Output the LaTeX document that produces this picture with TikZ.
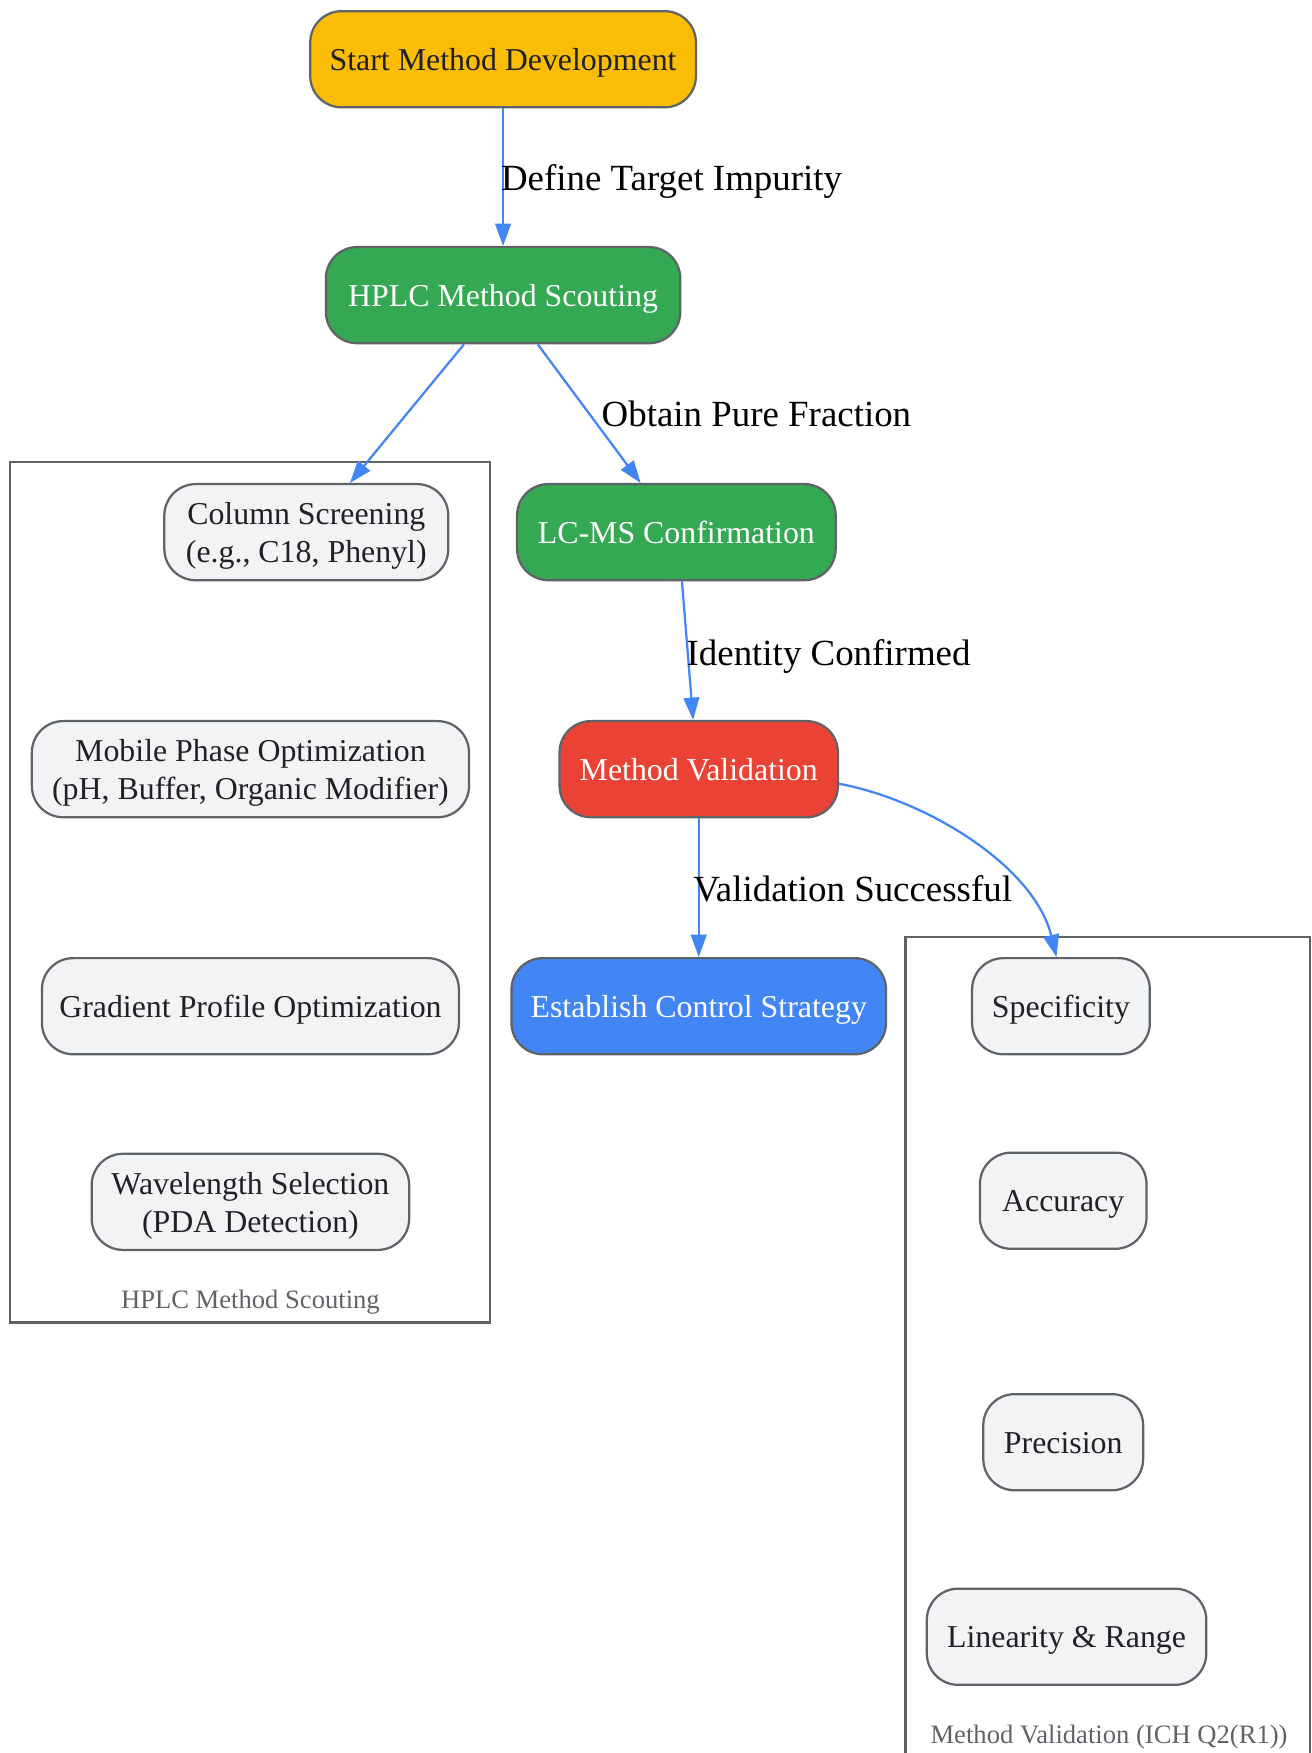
\documentclass[tikz,border=0pt]{standalone}
\usepackage{fontspec}
\setmainfont{Liberation Serif}
\usetikzlibrary{arrows.meta,positioning,calc}
\definecolor{cyellow}{HTML}{FBBC04}
\definecolor{cgreen}{HTML}{34A853}
\definecolor{cred}{HTML}{EA4335}
\definecolor{cblue}{HTML}{4285F4}
\definecolor{cgrayfill}{HTML}{F1F3F4}
\definecolor{cborder}{HTML}{5F6368}
\definecolor{ctext}{HTML}{202124}
\newcommand{\mytopstrut}{\rule{0pt}{28pt}}
\newcommand{\mybotstrut}{\rule[-8pt]{0pt}{8pt}}
\begin{document}
\begin{tikzpicture}[x=1pt,y=-1pt,
  box/.style={draw=cborder,line width=2pt,rounded corners=28pt,minimum height=86pt,inner sep=0pt,align=center,font=\fontsize{28.5}{34}\selectfont},
  light/.style={box,fill=cgrayfill,text=ctext},
  edge/.style={draw=cblue,line width=2pt,-{Triangle[length=20pt,width=14pt]}},
  elabel/.style={anchor=base west,font=\fontsize{33}{38}\selectfont,text=black,inner sep=0pt},
  cluster/.style={draw=cborder,line width=2pt,fill=none},
  ctitle/.style={anchor=base,font=\fontsize{23.8}{28}\selectfont,text=cborder,inner sep=0pt}]
\useasboundingbox (0,0) rectangle (1173,1568);
% clusters
\draw[cluster] (9,413) rectangle (438,1183);
\node[ctitle] (t1) at (224,1170.5) {HPLC Method Scouting};
\draw[cluster] (810,838) rectangle (1172,1590);
\node[ctitle] (t2) at (992,1559.5) {Method Validation (ICH Q2(R1))};
% main nodes
\node[box,fill=cyellow,text=ctext,minimum width=345pt] (start) at (450,53) {\mytopstrut Start Method Development\mybotstrut};
\node[box,fill=cgreen,text=white,minimum width=317pt] (hplc) at (450,264) {\mytopstrut HPLC Method Scouting\mybotstrut};
\node[box,fill=cgreen,text=white,minimum width=285pt] (lcms) at (605,476) {\mytopstrut LC-MS Confirmation\mybotstrut};
\node[box,fill=cred,text=white,minimum width=249pt] (mv) at (625,688) {\mytopstrut Method Validation\mybotstrut};
\node[box,fill=cblue,text=white,minimum width=335pt] (ecs) at (625,900) {\mytopstrut Establish Control Strategy\mybotstrut};
% scouting nodes
\node[light,minimum width=254pt] (col) at (274,476) {\mytopstrut Column Screening\\(e.g., C18, Phenyl)\mybotstrut};
\node[light,minimum width=391pt] (mob) at (224,688) {\mytopstrut Mobile Phase Optimization\\(pH, Buffer, Organic Modifier)\mybotstrut};
\node[light,minimum width=373pt] (grad) at (224,900) {\mytopstrut Gradient Profile Optimization\mybotstrut};
\node[light,minimum width=284pt] (wave) at (224,1075) {\mytopstrut Wavelength Selection\\(PDA Detection)\mybotstrut};
% validation nodes
\node[light,minimum width=159pt] (spec) at (949,900) {\mytopstrut Specificity\mybotstrut};
\node[light,minimum width=149pt] (acc) at (951,1074) {\mytopstrut Accuracy\mybotstrut};
\node[light,minimum width=143pt] (prec) at (951,1290) {\mytopstrut Precision\mybotstrut};
\node[light,minimum width=250pt] (lin) at (954,1464) {\mytopstrut Linearity \& Range\mybotstrut};
% edges
\draw[edge] (start.south) -- (hplc.north);
\node[elabel] (l1) at (448,170.6) {Define Target Impurity};
\draw[edge] ([xshift=-35pt]hplc.south) -- ([xshift=39pt]col.north);
\draw[edge] ([xshift=31pt]hplc.south) -- ([xshift=-32pt]lcms.north);
\node[elabel] (l2) at (538,381.8) {Obtain Pure Fraction};
\draw[edge] ([xshift=5pt]lcms.south) -- ([xshift=-5pt]mv.north);
\node[elabel] (l3) at (614,595) {Identity Confirmed};
\draw[edge] (mv.south) -- (ecs.north);
\node[elabel] (l4) at (620,806.5) {Validation Successful};
\draw[edge] ([yshift=-13pt]mv.east) .. controls (830,716) and (925,775) .. ([xshift=-4pt]spec.north);
\end{tikzpicture}
\end{document}
